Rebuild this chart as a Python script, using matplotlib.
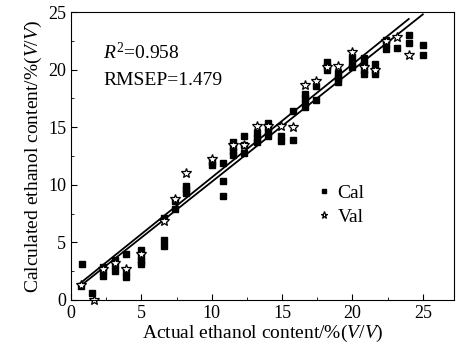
import matplotlib.pyplot as plt
from matplotlib.ticker import MultipleLocator

plt.rcParams['font.family'] = 'Liberation Serif'
plt.rcParams['mathtext.fontset'] = 'custom'
plt.rcParams['mathtext.rm'] = 'Liberation Serif'
plt.rcParams['mathtext.it'] = 'Liberation Serif:italic'

# calibration set: actual value -> predicted values
cal_groups = [
    (0.8, [3.1]), (0.7, [1.2]), (1.5, [0.6]),
    (2.3, [2.9, 2.5, 2.1]), (3.1, [3.5, 3.0, 2.5]), (3.9, [4.0, 2.4, 2.0]),
    (5.0, [4.3, 3.8, 3.4, 3.1]), (6.6, [7.1, 5.2, 4.7]), (7.4, [8.6, 7.9]),
    (8.2, [9.9, 9.6, 9.3]), (10.0, [12.0, 11.7]), (10.8, [11.9, 10.3, 9.0]),
    (11.5, [13.7, 13.3, 12.9, 12.6]), (12.3, [14.2, 13.5, 12.8]),
    (13.2, [14.5, 14.1, 13.7]), (14.0, [15.4, 15.0, 14.6, 14.2]),
    (14.9, [14.2, 13.8]), (15.8, [16.4, 13.9]), (16.6, [17.9, 17.5, 17.1, 16.8]),
    (17.4, [18.6, 17.4]), (18.2, [20.7, 20.3, 20.0]), (19.0, [19.7, 19.3, 18.9]),
    (20.0, [21.1, 20.6, 20.2]), (20.8, [21.0, 20.5, 20.0, 19.6]),
    (21.6, [20.5, 20.0, 19.6]), (22.4, [22.6, 22.2, 21.8]), (23.2, [21.9]),
    (24.0, [23.0, 22.3]), (25.0, [22.1, 21.3]),
]
cal_x = [g[0] for g in cal_groups for v in g[1]]
cal_y = [v for g in cal_groups for v in g[1]]

# validation set
val_x = [0.7, 1.6, 2.3, 3.1, 3.9, 5.0, 6.6, 7.4, 8.2, 10.0, 11.5, 12.3, 13.2,
         14.0, 14.9, 15.8, 16.6, 17.4, 18.2, 19.0, 20.0, 20.8, 21.6, 22.4, 23.2, 24.0]
val_y = [1.3, 0.0, 2.7, 3.2, 2.7, 4.0, 6.9, 8.8, 11.0, 12.2, 13.5, 13.5, 15.1,
         15.1, 15.1, 15.0, 18.7, 19.0, 20.2, 20.3, 21.5, 20.2, 20.0, 22.5, 22.8, 21.3]

# fitted lines (end points)
fit1_x = [0.6, 24.0]
fit1_y = [1.4, 24.4]
fit2_x = [0.6, 25.0]
fit2_y = [1.15, 24.8]

fig = plt.figure(figsize=(4.64, 3.55), dpi=100)
ax = fig.add_axes([0.153, 0.155, 0.825, 0.811])

ax.plot(fit1_x, fit1_y, color='black', lw=1.3)
ax.plot(fit2_x, fit2_y, color='black', lw=1.3)
ax.plot(cal_x, cal_y, ls='none', marker='s', ms=4.2, color='black', label='Cal')
ax.plot(val_x, val_y, ls='none', marker='*', ms=7.5, mfc='white', mec='black',
        mew=0.9, label='Val', clip_on=False)

ax.set_xlim(0, 27.2)
ax.set_ylim(0, 25)
ax.xaxis.set_major_locator(MultipleLocator(5))
ax.xaxis.set_minor_locator(MultipleLocator(2.5))
ax.yaxis.set_major_locator(MultipleLocator(5))
ax.yaxis.set_minor_locator(MultipleLocator(2.5))
ax.tick_params(which='both', direction='in', top=False, right=False, labelsize=13)
ax.tick_params(which='major', length=4)
ax.tick_params(which='minor', length=2.5)

ax.set_xlabel('Actual ethanol content/%($V$/$V$)', fontsize=14, labelpad=1)
ax.set_ylabel('Calculated ethanol content/%($V$/$V$)', fontsize=14, labelpad=3)

ax.text(0.084, 0.858, '$R^{2}$=0.958', transform=ax.transAxes, fontsize=14, va='center')
ax.text(0.084, 0.764, 'RMSEP=1.479', transform=ax.transAxes, fontsize=14, va='center')

ax.legend(loc='center left', bbox_to_anchor=(0.6, 0.33), frameon=False, fontsize=14,
          handlelength=0.6, handletextpad=0.4, labelspacing=0.35, markerscale=0.7)

fig.savefig('out.png', dpi=100)
